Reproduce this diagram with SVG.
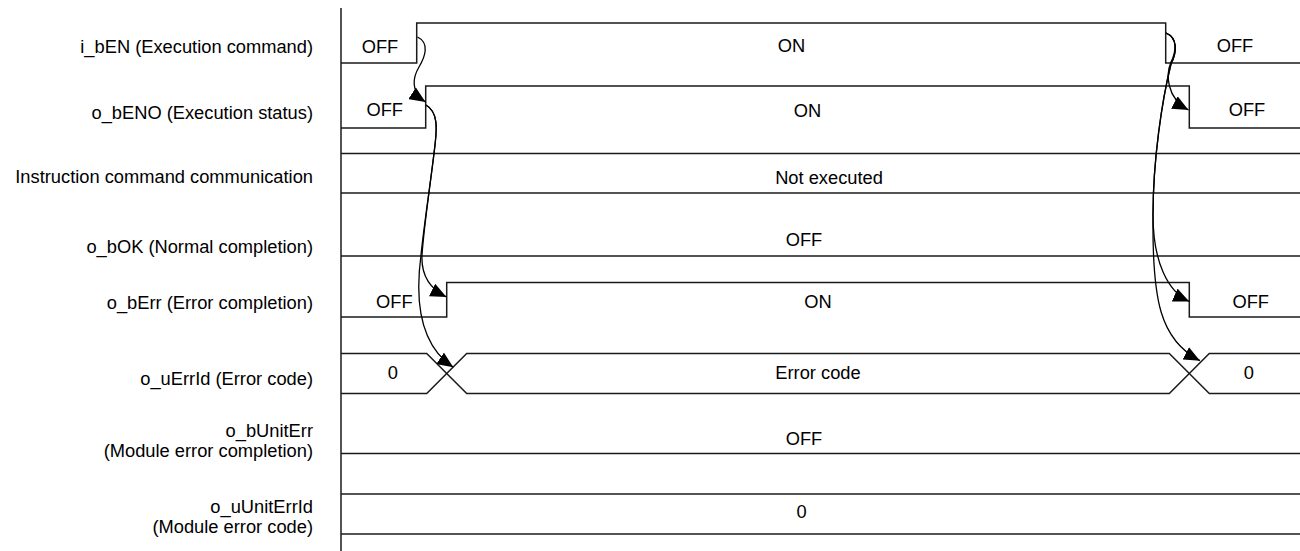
<svg xmlns="http://www.w3.org/2000/svg" width="1300" height="551" viewBox="0 0 1300 551">
<defs>
<style>
.lbl{font-family:"Liberation Sans",Arial,sans-serif;font-size:18.3px;fill:#000;text-anchor:end}
.val{font-family:"Liberation Sans",Arial,sans-serif;font-size:18.3px;fill:#000;text-anchor:middle}
.sig{fill:none;stroke:#1a1a1a;stroke-width:1.5}
.con{fill:none;stroke:#000;stroke-width:1.3}
</style>
<marker id="arr" viewBox="0 0 16 14" refX="16" refY="7" markerWidth="16" markerHeight="14" markerUnits="userSpaceOnUse" orient="auto">
<path d="M0,0 L16,7 L0,14 z" fill="#000"/>
</marker>
</defs>
<rect width="1300" height="551" fill="#fff"/>
<line class="sig" x1="341" y1="8" x2="341" y2="551"/>

<g id="i_bEN">
<text class="lbl" x="313" y="53">i_bEN (Execution command)</text>
<path class="sig" d="M341,63 L416.7,63 L416.7,23 L1165.7,23 L1165.7,63 L1300,63"/>
<text class="val" x="380" y="53">OFF</text>
<text class="val" x="791.5" y="52">ON</text>
<text class="val" x="1235" y="52">OFF</text>
</g>

<g id="o_bENO">
<text class="lbl" x="313" y="119">o_bENO (Execution status)</text>
<path class="sig" d="M341,128 L425.7,128 L425.7,86 L1189.3,86 L1189.3,128 L1300,128"/>
<text class="val" x="384.7" y="116">OFF</text>
<text class="val" x="807.5" y="117">ON</text>
<text class="val" x="1247" y="116">OFF</text>
</g>

<g id="instr">
<text class="lbl" x="313" y="183">Instruction command communication</text>
<line class="sig" x1="341" y1="153.5" x2="1300" y2="153.5"/>
<line class="sig" x1="341" y1="193" x2="1300" y2="193"/>
<text class="val" x="829" y="184">Not executed</text>
</g>

<g id="o_bOK">
<text class="lbl" x="313" y="252.5">o_bOK (Normal completion)</text>
<line class="sig" x1="341" y1="256" x2="1300" y2="256"/>
<text class="val" x="804" y="246">OFF</text>
</g>

<g id="o_bErr">
<text class="lbl" x="313" y="308.5">o_bErr (Error completion)</text>
<path class="sig" d="M341,317 L446.7,317 L446.7,282.5 L1189.3,282.5 L1189.3,317 L1300,317"/>
<text class="val" x="394.3" y="308">OFF</text>
<text class="val" x="818" y="308">ON</text>
<text class="val" x="1250.7" y="308">OFF</text>
</g>

<g id="o_uErrId">
<text class="lbl" x="313" y="384.5">o_uErrId (Error code)</text>
<path class="sig" d="M341,353.5 L426.7,353.5 L466.7,393.5 L1169.3,393.5 L1209.3,353.5 L1300,353.5"/>
<path class="sig" d="M341,393.5 L426.7,393.5 L466.7,353.5 L1169.3,353.5 L1209.3,393.5 L1300,393.5"/>
<text class="val" x="392.8" y="379">0</text>
<text class="val" x="818" y="379">Error code</text>
<text class="val" x="1248.8" y="379">0</text>
</g>

<g id="o_bUnitErr">
<text class="lbl" x="313" y="437">o_bUnitErr</text>
<text class="lbl" x="313" y="457">(Module error completion)</text>
<line class="sig" x1="341" y1="453.5" x2="1300" y2="453.5"/>
<text class="val" x="804" y="445">OFF</text>
</g>

<g id="o_uUnitErrId">
<text class="lbl" x="313" y="513">o_uUnitErrId</text>
<text class="lbl" x="313" y="533">(Module error code)</text>
<line class="sig" x1="341" y1="494" x2="1300" y2="494"/>
<line class="sig" x1="341" y1="534" x2="1300" y2="534"/>
<text class="val" x="801.7" y="518">0</text>
</g>

<g id="connectors">
<path class="con" marker-end="url(#arr)" d="M417.5,37 C430,43 425,57 419,67 C413,77 410,92 425.5,102"/>
<path class="con" marker-end="url(#arr)" d="M426,105 C438,112 437,128 435,145 C431,180 424,225 422,255 C421,275 430,289 446.5,297"/>
<path class="con" marker-end="url(#arr)" d="M426,105 C438,112 437,128 435,145 C431,180 424,225 421,255 C415,300 420,345 453.3,367.3"/>
<path class="con" marker-end="url(#arr)" d="M1166,33 C1178,38 1176,52 1171,62 C1166,74 1166,98 1188.5,110"/>
<path class="con" marker-end="url(#arr)" d="M1166,33 C1178,38 1177,52 1171,64 C1162,100 1153,160 1153,215 C1153,262 1168,292 1189.3,301.5"/>
<path class="con" marker-end="url(#arr)" d="M1166,33 C1178,38 1177,52 1171,64 C1162,100 1153,160 1153,215 C1152,300 1160,340 1200,360.7"/>
</g>
</svg>
